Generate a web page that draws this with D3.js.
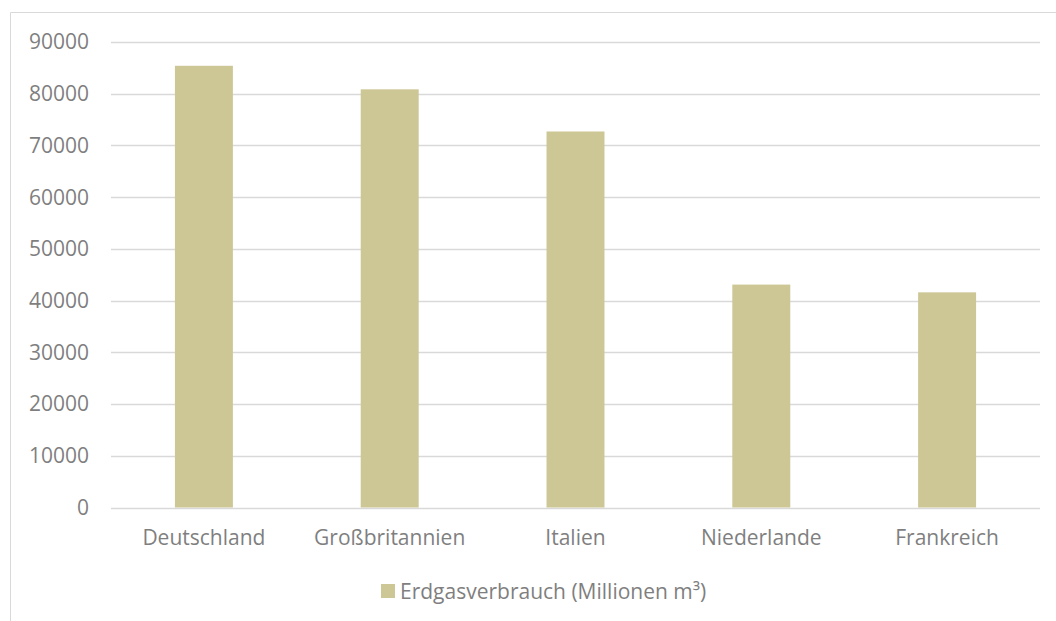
<!doctype html>
<html>
  <head>
    <meta charset="utf-8">
    <script src="https://cdn.jsdelivr.net/npm/d3@7/dist/d3.min.js"></script>
    <style>
      body { margin: 0; background: #fff; }
      text { font-family: "Open Sans", sans-serif; fill: #7f7f7f; font-size: 21px; }
    </style>
  </head>
  <body>
    <svg id="chart" width="1056" height="621"></svg>
    <script>
      var countries = ["Deutschland", "Großbritannien", "Italien", "Niederlande", "Frankreich"];
      var consumption = [85400, 80850, 72700, 43100, 41600];
      var yTicks = [0, 10000, 20000, 30000, 40000, 50000, 60000, 70000, 80000, 90000];
      var seriesName = "Erdgasverbrauch (Millionen m³)";

      var svg = d3.select("#chart");

      // outer chart frame (cut off at right and bottom like the source)
      svg.append("path")
        .attr("d", "M10.5,1056 L10.5,12.5 L1056,12.5")
        .attr("fill", "none")
        .attr("stroke", "#d9d9d9");

      var x = d3.scaleBand()
        .domain(countries)
        .range([111, 1040])
        .paddingInner(0.688)
        .paddingOuter(0.344);

      var y = d3.scaleLinear()
        .domain([0, 90000])
        .range([507.5, 42]);

      svg.append("g")
        .selectAll("line")
        .data(yTicks)
        .enter()
        .append("line")
          .attr("x1", 111)
          .attr("x2", 1040)
          .attr("y1", d => Math.round(y(d)) + 0.5)
          .attr("y2", d => Math.round(y(d)) + 0.5)
          .attr("stroke", "#d9d9d9")
          .attr("stroke-width", 1.3);

      svg.append("g")
        .selectAll("text")
        .data(yTicks)
        .enter()
        .append("text")
          .attr("x", 89)
          .attr("y", d => y(d))
          .attr("dy", "0.35em")
          .attr("text-anchor", "end")
          .text(d => d);

      svg.append("g")
        .selectAll("rect")
        .data(consumption)
        .enter()
        .append("rect")
          .attr("x", (d, i) => x(countries[i]))
          .attr("width", x.bandwidth())
          .attr("y", d => y(d))
          .attr("height", d => y(0) - y(d))
          .attr("fill", "#cdc796");

      svg.append("g")
        .selectAll("text")
        .data(countries)
        .enter()
        .append("text")
          .attr("x", d => x(d) + x.bandwidth() / 2)
          .attr("y", 538)
          .attr("dy", "0.35em")
          .attr("text-anchor", "middle")
          .text(d => d);

      var legend = svg.append("g");
      legend.append("rect")
        .attr("x", 381)
        .attr("y", 584)
        .attr("width", 14)
        .attr("height", 14)
        .attr("fill", "#cdc796");
      legend.append("text")
        .attr("x", 400)
        .attr("y", 592)
        .attr("dy", "0.35em")
        .text(seriesName);
    </script>
  </body>
</html>
